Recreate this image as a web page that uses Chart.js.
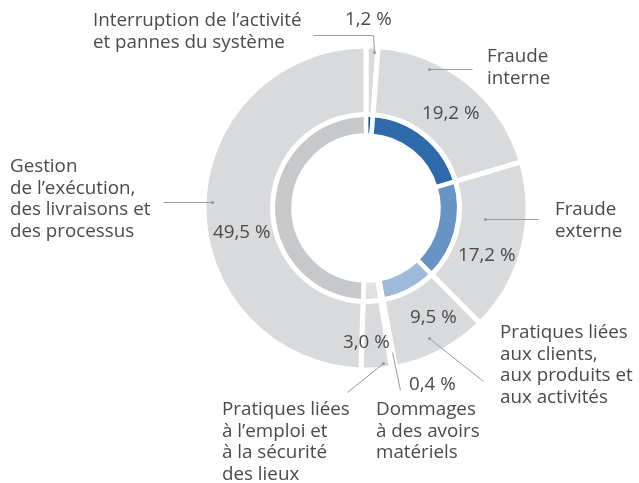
<!DOCTYPE html>
<html>
<head>
<meta charset="utf-8">
<script src="https://cdn.jsdelivr.net/npm/chart.js@4/dist/chart.umd.min.js"></script>
<style>
  html, body { margin: 0; padding: 0; background: #ffffff; }
  #wrap { position: relative; width: 639px; height: 483px; }
</style>
</head>
<body>
<div id="wrap"><canvas id="c" width="639" height="483"></canvas></div>
<script>
// ---- data ----
const categories = [
  "Interruption de l’activité et pannes du système",
  "Fraude interne",
  "Fraude externe",
  "Pratiques liées aux clients, aux produits et aux activités",
  "Dommages à des avoirs matériels",
  "Pratiques liées à l’emploi et à la sécurité des lieux",
  "Gestion de l’exécution, des livraisons et des processus"
];
const categoryLines = [
  ["Interruption de l’activité", "et pannes du système"],
  ["Fraude", "interne"],
  ["Fraude", "externe"],
  ["Pratiques liées", "aux clients,", "aux produits et", "aux activités"],
  ["Dommages", "à des avoirs", "matériels"],
  ["Pratiques liées", "à l’emploi et", "à la sécurité", "des lieux"],
  ["Gestion", "de l’exécution,", "des livraisons et", "des processus"]
];
const values = [1.2, 19.2, 17.2, 9.5, 0.4, 3.0, 49.5];

// ---- styles ----
const outerColor = '#d9dadc';
const innerColors = ['#0b4f9c', '#2e6aa9', '#6894c5', '#9dbadb', '#c9d6e6', '#e1e2e3', '#c7c8ca'];
const textColor = '#4a4a4a';
const lineColor = '#9a9a9a';
const FONT = '"Open Sans", "Noto Sans", sans-serif';
const FONT_SIZE = 18.8;
const LINE_H = 21.5;

// label layout, offsets relative to the doughnut centre
const layoutCfg = [
  { name: [-273, -182], value: [-21, -183], leader: [[8, -156], [7, -173], [-53, -173]] },
  { name: [121, -146], value: [56, -89],  leader: [[63, -139], [106, -139]] },
  { name: [189, 7],    value: [92, 53],   leader: [[119, 11], [172, 11]] },
  { name: [134, 130],  value: [44, 115],  leader: [[63, 130], [117, 173]] },
  { name: [10, 207],   value: [43, 182],  leader: [[26, 144], [34, 182]], noDot: true },
  { name: [-144, 207], value: [-23, 140], leader: [[17, 155], [-19, 184]] },
  { name: [-356, -36], value: [-153, 30], leader: [[-154, -6], [-203, -6]] }
];

function fmt(v) { return v.toFixed(1).replace('.', ',') + ' %'; }

const labelPlugin = {
  id: 'sliceLabels',
  afterDatasetsDraw(chart) {
    const arc = chart.getDatasetMeta(0).data[0];
    const cx = arc.x, cy = arc.y;
    const ctx = chart.ctx;
    ctx.save();
    ctx.font = FONT_SIZE + 'px ' + FONT;
    ctx.fillStyle = textColor;
    ctx.textAlign = 'left';
    ctx.textBaseline = 'alphabetic';
    layoutCfg.forEach((cfg, i) => {
      categoryLines[i].forEach((line, k) => {
        ctx.fillText(line, cx + cfg.name[0], cy + cfg.name[1] + k * LINE_H);
      });
      ctx.fillText(fmt(values[i]), cx + cfg.value[0], cy + cfg.value[1]);
      // leader
      ctx.strokeStyle = lineColor;
      ctx.lineWidth = 1;
      ctx.beginPath();
      cfg.leader.forEach((p, k) => {
        const x = cx + p[0] + 0.5, y = cy + p[1] + 0.5;
        if (k === 0) ctx.moveTo(x, y); else ctx.lineTo(x, y);
      });
      ctx.stroke();
      if (!cfg.noDot) {
        ctx.fillStyle = lineColor;
        ctx.beginPath();
        ctx.arc(cx + cfg.leader[0][0] + 0.5, cy + cfg.leader[0][1] + 0.5, 1.6, 0, Math.PI * 2);
        ctx.fill();
        ctx.fillStyle = textColor;
      }
    });
    ctx.restore();
  }
};

new Chart(document.getElementById('c'), {
  type: 'doughnut',
  data: {
    labels: categories,
    datasets: [
      {
        data: values,
        backgroundColor: values.map(() => outerColor),
        borderColor: '#ffffff',
        borderWidth: 5,
        weight: 68.5
      },
      {
        data: values,
        backgroundColor: innerColors,
        borderColor: '#ffffff',
        borderWidth: 4.5,
        weight: 21
      }
    ]
  },
  options: {
    responsive: false,
    animation: false,
    radius: 162,
    cutout: '44.75%',
    layout: { padding: { left: 100, right: 7, top: 10, bottom: 77 } },
    plugins: { legend: { display: false }, tooltip: { enabled: false } }
  },
  plugins: [labelPlugin]
});
</script>
</body>
</html>
